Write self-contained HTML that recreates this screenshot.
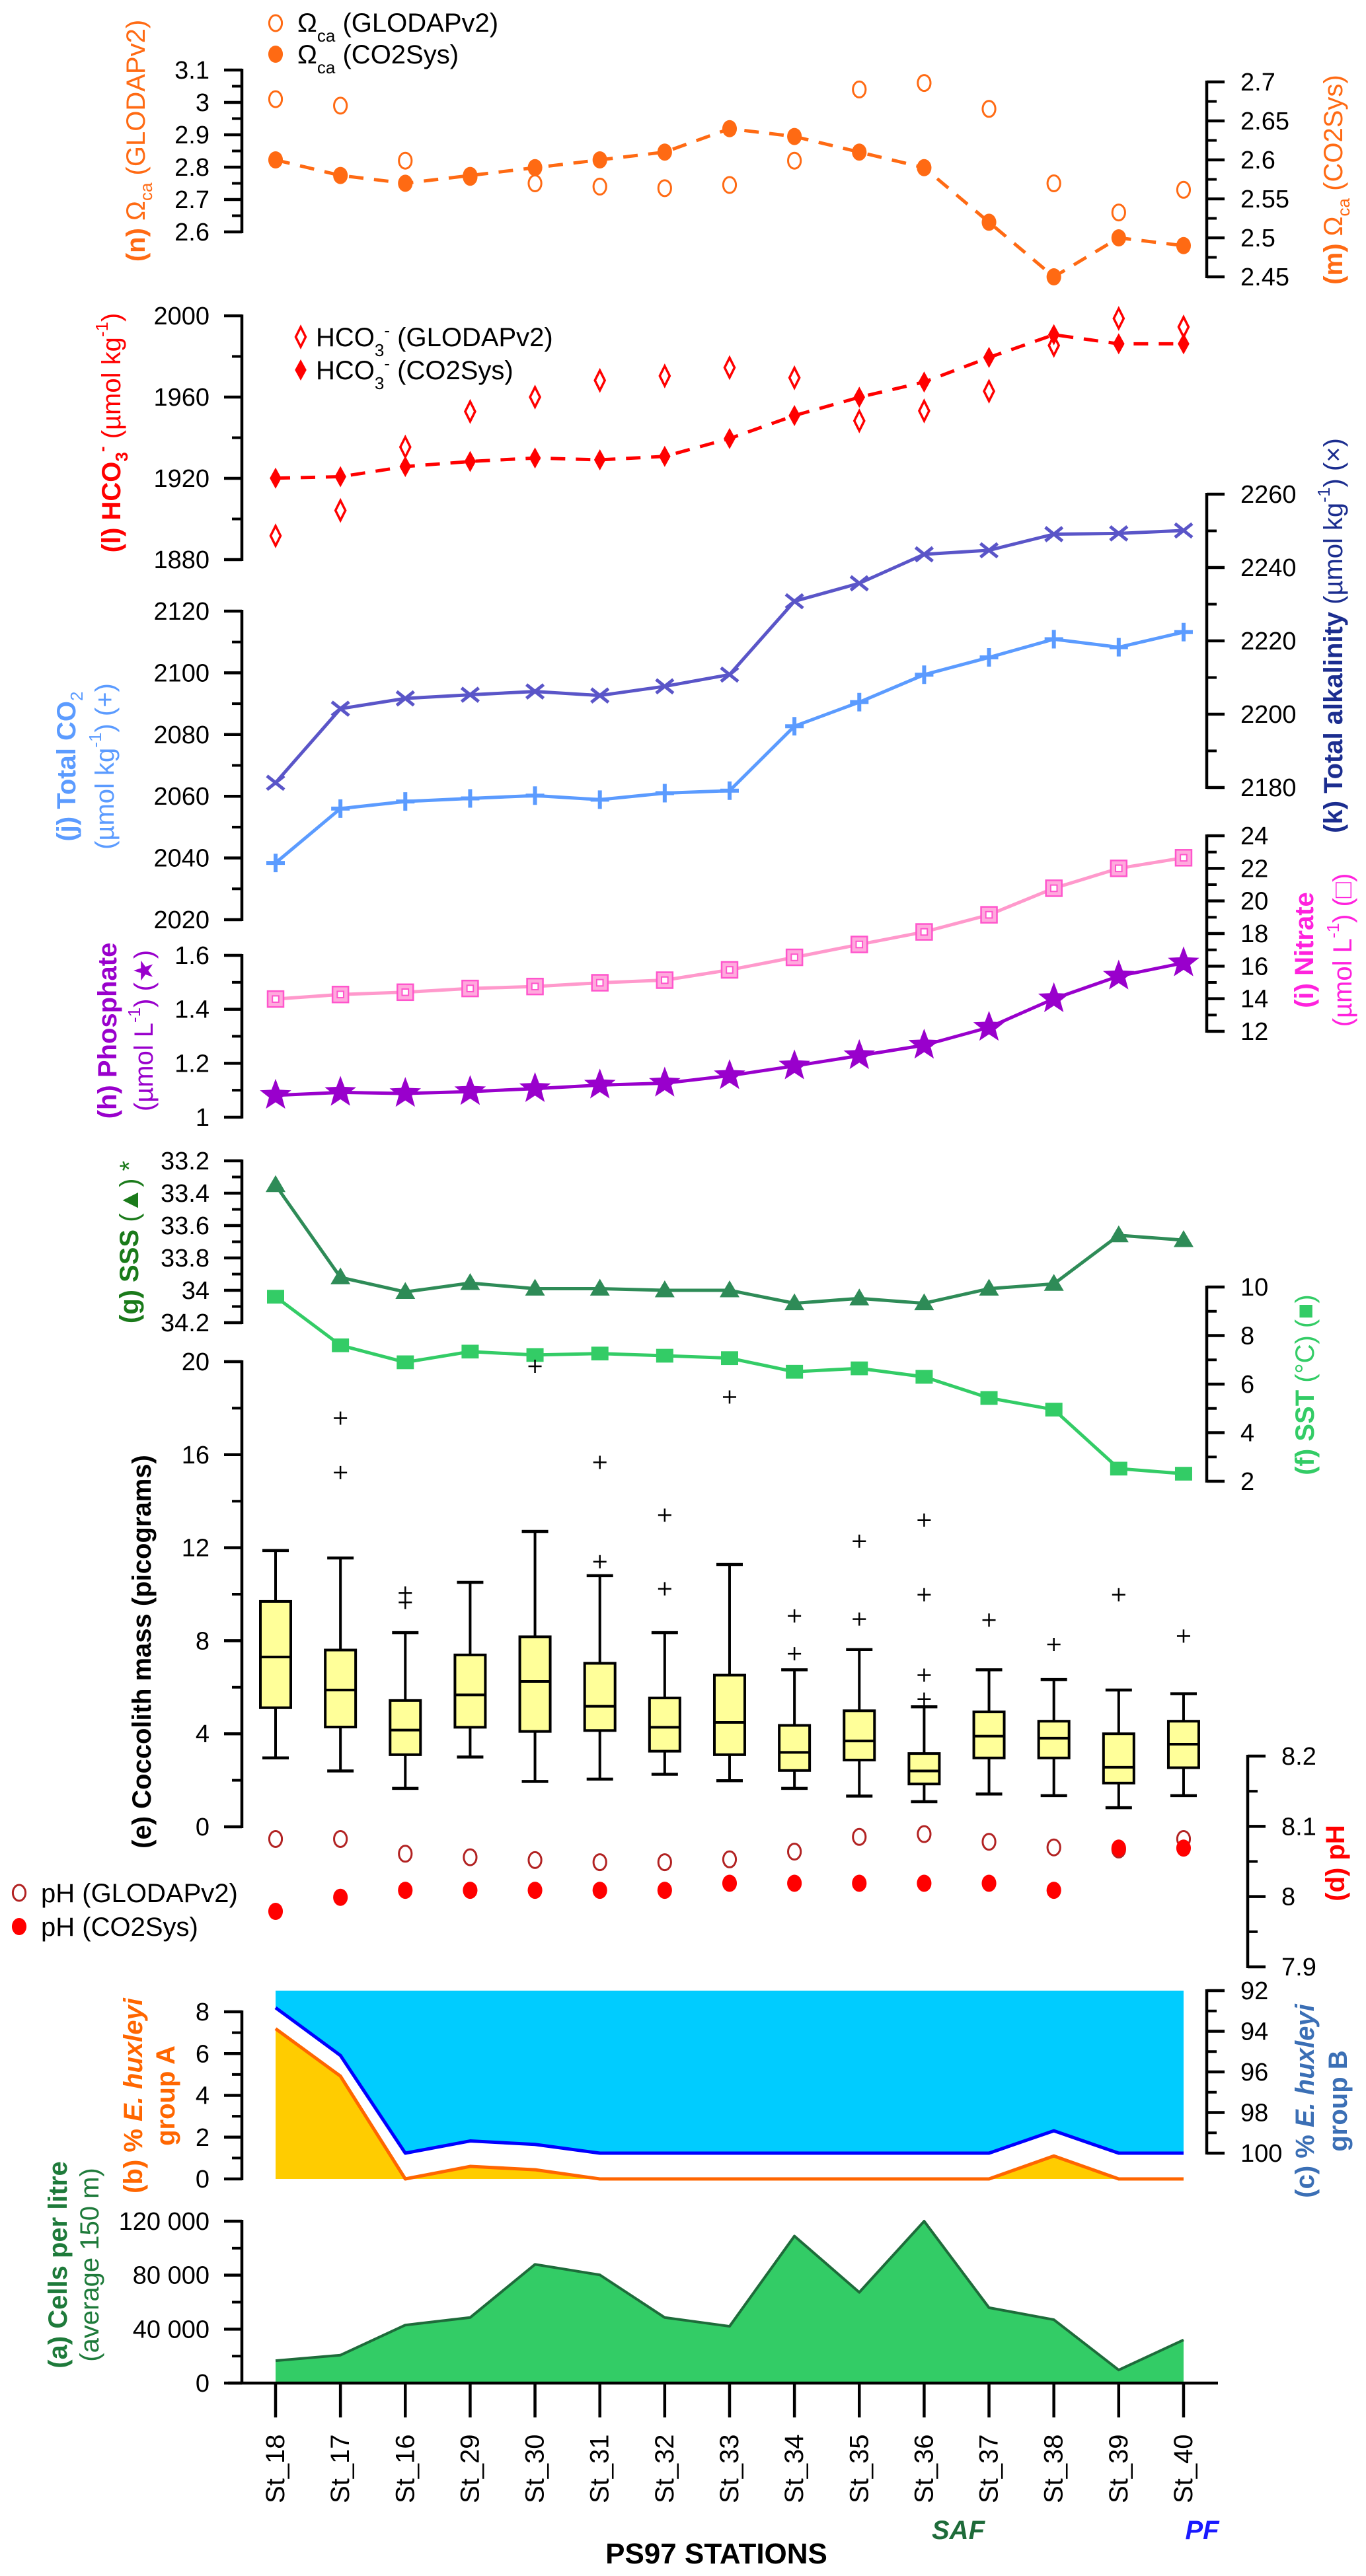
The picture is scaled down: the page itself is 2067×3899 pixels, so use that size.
<!DOCTYPE html>
<html><head><meta charset="utf-8"><style>
html,body{margin:0;padding:0;background:#fff}
svg{display:block;font-family:"Liberation Sans",Arial,sans-serif}
</style></head><body>
<svg id="chart" width="2067" height="3899" viewBox="0 0 2067 3899" xmlns="http://www.w3.org/2000/svg"></svg>
<script>
const stations = ["St_18","St_17","St_16","St_29","St_30","St_31","St_32","St_33","St_34","St_35","St_36","St_37","St_38","St_39","St_40"];
const omegaGlodap = [3.01,2.99,2.82,2.77,2.75,2.74,2.735,2.745,2.82,3.04,3.06,2.98,2.75,2.66,2.73];
const omegaCo2sys = [2.60,2.58,2.57,2.58,2.59,2.60,2.61,2.64,2.63,2.61,2.59,2.52,2.45,2.50,2.49];
const hco3Glodap = [1891.7,1904.2,1935.4,1952.9,1960,1968.2,1970.4,1974.5,1969.5,1948.3,1953.2,1962.9,1985.4,1998.7,1994.5];
const hco3Co2sys = [1920.1,1920.8,1925.8,1928.3,1930,1929.1,1930.8,1939.6,1950.9,1959.9,1967.4,1979.5,1990.7,1986.2,1986.2];
const totalCO2 = [2038.4,2056,2058.3,2059.3,2060.2,2058.9,2061,2061.8,2082.7,2090.5,2099.4,2105,2110.9,2108.3,2113.2];
const totalAlk = [2181.3,2201.5,2204.3,2205.3,2206.2,2205.1,2207.6,2210.8,2230.8,2235.7,2243.6,2244.7,2249.1,2249.3,2250.1];
const nitrate = [13.98,14.26,14.4,14.63,14.75,14.98,15.14,15.77,16.54,17.33,18.1,19.15,20.78,22,22.65];
const phosphate = [1.081,1.092,1.088,1.095,1.106,1.119,1.126,1.154,1.19,1.228,1.267,1.333,1.439,1.523,1.572];
const sss = [33.35,33.92,34.01,33.955,33.99,33.99,34.0,34.0,34.08,34.05,34.08,33.99,33.96,33.66,33.69];
const sst = [9.6,7.6,6.9,7.34,7.2,7.26,7.17,7.07,6.51,6.65,6.3,5.43,4.95,2.52,2.31];
const boxWhiskerTop = [11.88,11.56,8.35,10.51,12.7,10.8,8.35,11.28,6.75,7.62,5.16,6.75,6.33,5.88,5.72];
const boxQ3 = [9.69,7.6,5.43,7.39,8.17,7.03,5.54,6.52,4.36,4.99,3.15,4.94,4.54,4.0,4.54];
const boxMedian = [7.3,5.88,4.16,5.67,6.25,5.18,4.28,4.49,3.2,3.69,2.4,3.9,3.81,2.56,3.55];
const boxQ1 = [5.12,4.29,3.1,4.28,4.1,4.14,3.25,3.1,2.42,2.87,1.84,2.96,2.96,1.88,2.54];
const boxWhiskerBottom = [2.96,2.4,1.65,3.0,1.95,2.05,2.26,1.98,1.65,1.32,1.08,1.41,1.34,0.82,1.34];
const boxOutliers = [[],[17.57,15.23],[10.05,9.65],[],[19.8],[15.67,11.4],[13.4,10.23],[18.48],[9.07,7.44],[12.28,8.93],[13.19,9.98,6.52,5.49],[8.89],[7.84],[9.98],[8.2]];
const phGlodap = [8.082,8.082,8.061,8.056,8.052,8.049,8.049,8.053,8.064,8.085,8.089,8.078,8.07,8.067,8.082];
const phCo2sys = [7.979,7.999,8.009,8.009,8.009,8.009,8.009,8.019,8.019,8.019,8.019,8.019,8.009,8.069,8.069];
const groupA = [7.19,4.92,0,0.6,0.44,0,0,0,0,0,0,0,1.1,0,0];
const groupB = [92.84,95.19,100,99.4,99.57,100,100,100,100,100,100,100,98.9,100,100];
const cells = [16600,20700,43000,48600,88000,80200,48600,42100,109000,67300,120000,55900,47000,9700,32000];
const omegaLTicks = ["2.6","2.7","2.8","2.9","3","3.1"];
const omegaRTicks = ["2.45","2.5","2.55","2.6","2.65","2.7"];
const hco3Ticks = ["1880","1920","1960","2000"];
const dicTicks = ["2020","2040","2060","2080","2100","2120"];
const taTicks = ["2180","2200","2220","2240","2260"];
const nitTicks = ["12","14","16","18","20","22","24"];
const phosTicks = ["1","1.2","1.4","1.6"];
const sssTicks = ["33.2","33.4","33.6","33.8","34","34.2"];
const sstTicks = ["2","4","6","8","10"];
const coccTicks = ["0","4","8","12","16","20"];
const phTicks = ["7.9","8","8.1","8.2"];
const grpATicks = ["0","2","4","6","8"];
const grpBTicks = ["92","94","96","98","100"];
const cellTicks = ["0","40 000","80 000","120 000"];

const NS="http://www.w3.org/2000/svg";
const svg=document.getElementById('chart');
function mk(tag,attrs,parent){const e=document.createElementNS(NS,tag);for(const k in attrs)e.setAttribute(k,attrs[k]);(parent||svg).appendChild(e);return e;}
function lin(d0,d1,r0,r1){return v=>r0+(v-d0)/(d1-d0)*(r1-r0);}
const X0=417,DX=98.14;
const xs=i=>X0+i*DX;
const LAX=366,RAX=1826,PHAX=1888;

const yOmL=lin(2.6,3.1,351,106), yOmR=lin(2.45,2.7,419,124);
const yHco=lin(1880,2000,847,478), yDic=lin(2020,2120,1392,925), yTa=lin(2180,2260,1192,748);
const yNit=lin(12,24,1561,1265), yPho=lin(1,1.6,1691,1446);
const ySss=lin(33.2,34.2,1757,2002), ySst=lin(2,10,2242,1948);
const yCoc=lin(0,20,2765,2061), yPh=lin(7.9,8.2,2977,2658);
const yA=lin(0,8,3298,3045), yB=lin(92,100,3013,3259), yCel=lin(0,120000,3607,3362);

function axis(name,x,side,ticks,scale,minor,labelX,fs){
  const g=mk('g',{});
  
  
  const vals=ticks.map(t=>parseFloat(t.replace(/\s/g,'')));
  const y0=scale(vals[0]),y1=scale(vals[vals.length-1]);
  const d=side==='L'?-1:1;
  const ln=mk('line',{x1:x,x2:x,y1:Math.min(y0,y1)-2,y2:Math.max(y0,y1)+2,stroke:'#000','stroke-width':4.5},g);
  
  
  for(let i=0;i<vals.length;i++){
    const y=scale(vals[i]);
    mk('line',{x1:x,x2:x+d*27,y1:y,y2:y,stroke:'#000','stroke-width':4.5},g);
    if(minor&&i<vals.length-1){const ym=scale((vals[i]+vals[i+1])/2);mk('line',{x1:x,x2:x+d*15,y1:ym,y2:ym,stroke:'#000','stroke-width':4},g);}
    const t=mk('text',{x:labelX,y:y+13,'font-size':fs||38,'text-anchor':side==='L'?'end':'start',fill:'#000'},g);
    
    
    t.textContent=ticks[i];
  }
}
function vtitle(name,x,y,parts,fs){
  const t=mk('text',{transform:`translate(${x},${y}) rotate(-90)`,'text-anchor':'middle','font-size':fs||40,'dominant-baseline':'middle'});
  
  
  parts.forEach(p=>{const s=mk('tspan',{fill:p.c,'font-weight':p.b?'bold':'normal'},t);if(p.sup){s.setAttribute('baseline-shift','super');s.setAttribute('font-size',(fs||40)*0.65);}if(p.sub){s.setAttribute('baseline-shift','sub');s.setAttribute('font-size',(fs||40)*0.65);}if(p.i)s.setAttribute('font-style','italic');s.textContent=p.t;});
}
function poly(name,vals,scale,color,w,dash){
  const p=mk('polyline',{points:vals.map((v,i)=>xs(i)+','+scale(v)).join(' '),fill:'none',stroke:color,'stroke-width':w,'stroke-dasharray':dash||'none','stroke-linejoin':'round'});
  
  
}
function marker(name,type,x,y,color,s){
  let e;
  if(type==='oc')e=mk('ellipse',{cx:x,cy:y,rx:s*0.8,ry:s,fill:'#fff',stroke:color,'stroke-width':3});
  else if(type==='fc')e=mk('ellipse',{cx:x,cy:y,rx:s*0.85,ry:s,fill:color});
  else if(type==='od')e=mk('polygon',{points:`${x},${y-s} ${x+s*0.5},${y} ${x},${y+s} ${x-s*0.5},${y}`,fill:'#fff',stroke:color,'stroke-width':3.5});
  else if(type==='fd')e=mk('polygon',{points:`${x},${y-s} ${x+s*0.55},${y} ${x},${y+s} ${x-s*0.55},${y}`,fill:color});
  else if(type==='plus')e=mk('path',{d:`M${x-s},${y}H${x+s}M${x},${y-s}V${y+s}`,stroke:color,'stroke-width':6,fill:'none'});
  else if(type==='x')e=mk('path',{d:`M${x-s},${y-s*0.8}L${x+s},${y+s*0.8}M${x-s},${y+s*0.8}L${x+s},${y-s*0.8}`,stroke:color,'stroke-width':5,fill:'none'});
  else if(type==='sq'){e=mk('g',{});mk('rect',{x:x-s,y:y-s,width:2*s,height:2*s,fill:'#ffaadd',stroke:'#ff55cc','stroke-width':2.5},e);mk('rect',{x:x-s*0.4,y:y-s*0.4,width:s*0.8,height:s*0.8,fill:'#fff',stroke:'#ff55cc','stroke-width':2},e);}
  else if(type==='fsq')e=mk('rect',{x:x-s,y:y-s*0.8,width:2*s,height:1.6*s,fill:color});
  else if(type==='tri')e=mk('polygon',{points:`${x},${y-s} ${x+s},${y+s*0.7} ${x-s},${y+s*0.7}`,fill:color});
  else if(type==='star'){let pts=[];for(let k=0;k<10;k++){const r=k%2?s*0.42:s;const a=-Math.PI/2+k*Math.PI/5;pts.push((x+r*Math.cos(a))+','+(y+r*Math.sin(a)));}e=mk('polygon',{points:pts.join(' '),fill:color});}
  
  
  return e;
}
function series(name,vals,scale,type,color,s){vals.forEach((v,i)=>marker(name+'-point',type,xs(i),scale(v),color,s));}
function legText(name,x,y,parts,fs){
  const t=mk('text',{x:x,y:y,'font-size':fs||40,fill:'#000'});
  
  
  parts.forEach(p=>{const s=mk('tspan',{},t);if(p.sub){s.setAttribute('baseline-shift','sub');s.setAttribute('font-size',26);}if(p.sup){s.setAttribute('baseline-shift','super');s.setAttribute('font-size',26);}s.textContent=p.t;});
}

// ===== (n)/(m) Omega =====
axis('omega-glodap-axis',LAX,'L',omegaLTicks,yOmL,true,317);
axis('omega-co2sys-axis',RAX,'R',omegaRTicks,yOmR,true,1877);
const OR='#ff6a13';
poly('omega-co2sys-line',omegaCo2sys,yOmR,OR,5,'22,16');
series('omega-glodap',omegaGlodap,yOmL,'oc',OR,12);
series('omega-co2sys',omegaCo2sys,yOmR,'fc',OR,13);
marker('legend-omega-glodap-symbol','oc',417,35,OR,12);
legText('legend-omega-glodap',450,48,[{t:'Ω'},{t:'ca',sub:1},{t:' (GLODAPv2)'}]);
marker('legend-omega-co2sys-symbol','fc',417,82,OR,13);
legText('legend-omega-co2sys',450,96,[{t:'Ω'},{t:'ca',sub:1},{t:' (CO2Sys)'}]);
vtitle('omega-glodap-axis-title',208,213,[{t:'(n) ',c:OR,b:1},{t:'Ω',c:OR},{t:'ca',c:OR,sub:1},{t:' (GLODAPv2)',c:OR}]);
vtitle('omega-co2sys-axis-title',2020,272,[{t:'(m) ',c:OR,b:1},{t:'Ω',c:OR},{t:'ca',c:OR,sub:1},{t:' (CO2Sys)',c:OR}]);

// ===== (l) HCO3 =====
axis('hco3-axis',LAX,'L',hco3Ticks,yHco,true,317);
poly('hco3-co2sys-line',hco3Co2sys,yHco,'#ff0000',5,'22,16');
series('hco3-glodap',hco3Glodap,yHco,'od','#ff0000',15);
series('hco3-co2sys',hco3Co2sys,yHco,'fd','#ff0000',16);
marker('legend-hco3-glodap-symbol','od',455,510,'#ff0000',15);
legText('legend-hco3-glodap',478,524,[{t:'HCO'},{t:'3',sub:1},{t:'-',sup:1},{t:' (GLODAPv2)'}]);
marker('legend-hco3-co2sys-symbol','fd',455,560,'#ff0000',16);
legText('legend-hco3-co2sys',478,574,[{t:'HCO'},{t:'3',sub:1},{t:'-',sup:1},{t:' (CO2Sys)'}]);
vtitle('hco3-axis-title',171,655,[{t:'(l) HCO',c:'#ff0000',b:1},{t:'3',c:'#ff0000',b:1,sub:1},{t:'-',c:'#ff0000',b:1,sup:1},{t:'  (µmol kg',c:'#ff0000'},{t:'-1',c:'#ff0000',sup:1},{t:')',c:'#ff0000'}]);

// ===== (j) DIC / (k) TA =====
axis('total-co2-axis',LAX,'L',dicTicks,yDic,true,317);
axis('total-alkalinity-axis',RAX,'R',taTicks,yTa,true,1877);
poly('total-alkalinity-line',totalAlk,yTa,'#5a55c8',5);
series('total-alkalinity',totalAlk,yTa,'x','#5a55c8',13);
poly('total-co2-line',totalCO2,yDic,'#5b9bff',5);
series('total-co2',totalCO2,yDic,'plus','#5b9bff',14);
vtitle('total-co2-axis-title',103,1160,[{t:'(j) Total CO',c:'#5b9bff',b:1},{t:'2',c:'#5b9bff',sub:1}]);
vtitle('total-co2-axis-units',161,1160,[{t:'(µmol kg',c:'#5b9bff'},{t:'-1',c:'#5b9bff',sup:1},{t:') (+)',c:'#5b9bff'}]);
vtitle('total-alkalinity-axis-title',2020,962,[{t:'(k) Total alkalinity ',c:'#1b2d8f',b:1},{t:'(µmol kg',c:'#1b2d8f'},{t:'-1',c:'#1b2d8f',sup:1},{t:') (×)',c:'#1b2d8f'}]);

// ===== (h) Phosphate / (i) Nitrate =====
axis('phosphate-axis',LAX,'L',phosTicks,yPho,true,317);
axis('nitrate-axis',RAX,'R',nitTicks,yNit,true,1877);
poly('nitrate-line',nitrate,yNit,'#ff99cc',5);
series('nitrate',nitrate,yNit,'sq','#ff55cc',12);
poly('phosphate-line',phosphate,yPho,'#9900cc',5);
series('phosphate',phosphate,yPho,'star','#9900cc',25);
vtitle('phosphate-axis-title',165,1560,[{t:'(h) Phosphate',c:'#9900cc',b:1}]);
vtitle('phosphate-axis-units',220,1560,[{t:'(µmol L',c:'#9900cc'},{t:'-1',c:'#9900cc',sup:1},{t:') (★)',c:'#9900cc'}]);
vtitle('nitrate-axis-title',1976,1438,[{t:'(i) Nitrate',c:'#ff22dd',b:1}]);
vtitle('nitrate-axis-units',2034,1438,[{t:'(µmol L',c:'#ff22dd'},{t:'-1',c:'#ff22dd',sup:1},{t:') (□)',c:'#ff22dd'}]);

// ===== (g) SSS / (f) SST =====
axis('sss-axis',LAX,'L',sssTicks,ySss,true,317);
axis('sst-axis',RAX,'R',sstTicks,ySst,true,1877);
poly('sss-line',sss,ySss,'#2e8b57',5);
series('sss',sss,ySss,'tri','#2e8b57',15);
poly('sst-line',sst,ySst,'#33cc66',5);
series('sst',sst,ySst,'fsq','#33cc66',13);
vtitle('sss-axis-title',198,1880,[{t:'(g) SSS',c:'#1a7a1a',b:1},{t:' (▲) *',c:'#1a7a1a'}]);
vtitle('sst-axis-title',1977,2096,[{t:'(f) SST',c:'#33cc66',b:1},{t:' (°C) (■)',c:'#33cc66'}]);

// ===== (e) Coccolith mass boxplots =====
axis('coccolith-mass-axis',LAX,'L',coccTicks,yCoc,true,317);
stations.forEach((s,i)=>{
  const x=xs(i),g=mk('g',{});
  
  
  mk('line',{x1:x,x2:x,y1:yCoc(boxWhiskerTop[i]),y2:yCoc(boxQ3[i]),stroke:'#000','stroke-width':4},g);
  mk('line',{x1:x,x2:x,y1:yCoc(boxQ1[i]),y2:yCoc(boxWhiskerBottom[i]),stroke:'#000','stroke-width':4},g);
  mk('line',{x1:x-20,x2:x+20,y1:yCoc(boxWhiskerTop[i]),y2:yCoc(boxWhiskerTop[i]),stroke:'#000','stroke-width':4.5},g);
  mk('line',{x1:x-20,x2:x+20,y1:yCoc(boxWhiskerBottom[i]),y2:yCoc(boxWhiskerBottom[i]),stroke:'#000','stroke-width':4.5},g);
  mk('rect',{x:x-23,y:yCoc(boxQ3[i]),width:46,height:yCoc(boxQ1[i])-yCoc(boxQ3[i]),fill:'#ffff99',stroke:'#000','stroke-width':4},g);
  mk('line',{x1:x-23,x2:x+23,y1:yCoc(boxMedian[i]),y2:yCoc(boxMedian[i]),stroke:'#000','stroke-width':4},g);
  boxOutliers[i].forEach(o=>{const y=yCoc(o);mk('path',{d:`M${x-10},${y}H${x+10}M${x},${y-10}V${y+10}`,stroke:'#000','stroke-width':2.5,fill:'none'},g);});
});
vtitle('coccolith-mass-axis-title',217,2500,[{t:'(e) Coccolith mass (picograms)',c:'#000',b:1}]);

// ===== (d) pH =====
axis('ph-axis',PHAX,'R',phTicks,yPh,true,1939);
series('ph-glodap',phGlodap,yPh,'oc','#b22222',12);
series('ph-co2sys',phCo2sys,yPh,'fc','#ff0000',13);
marker('legend-ph-glodap-symbol','oc',29,2865,'#b22222',12);
legText('legend-ph-glodap',62,2879,[{t:'pH (GLODAPv2)'}]);
marker('legend-ph-co2sys-symbol','fc',29,2916,'#ff0000',13);
legText('legend-ph-co2sys',62,2930,[{t:'pH (CO2Sys)'}]);
vtitle('ph-axis-title',2023,2820,[{t:'(d) pH',c:'#ff0000',b:1}]);

// ===== (b)/(c) group A / B =====
const bluePts=groupB.map((v,i)=>xs(i)+','+yB(v));
const blueArea=mk('polygon',{points:xs(0)+','+yB(92)+' '+bluePts.join(' ')+' '+xs(14)+','+yB(92),fill:'#00ccff'});


const aPts=groupA.map((v,i)=>xs(i)+','+yA(v));
const yelArea=mk('polygon',{points:xs(0)+','+yA(0)+' '+aPts.join(' ')+' '+xs(14)+','+yA(0),fill:'#ffcc00'});


poly('group-b-line',groupB,yB,'#0000ff',5);
poly('group-a-line',groupA,yA,'#ff6600',5);
axis('group-a-axis',LAX,'L',grpATicks,yA,true,317);
axis('group-b-axis',RAX,'R',grpBTicks,yB,true,1877);
vtitle('group-a-axis-title',204,3172,[{t:'(b) ',c:'#ff6600',b:1},{t:'% ',c:'#ff6600',b:1},{t:'E. huxleyi',c:'#ff6600',b:1,i:1}]);
vtitle('group-a-axis-title-2',253,3172,[{t:'group A',c:'#ff6600',b:1}]);
vtitle('group-b-axis-title',1977,3180,[{t:'(c) % ',c:'#3b6fb5',b:1},{t:'E. huxleyi',c:'#3b6fb5',b:1,i:1}]);
vtitle('group-b-axis-title-2',2027,3180,[{t:'group B',c:'#3b6fb5',b:1}]);

// ===== (a) cells =====
const cPts=cells.map((v,i)=>xs(i)+','+yCel(v));
const cArea=mk('polygon',{points:xs(0)+','+yCel(0)+' '+cPts.join(' ')+' '+xs(14)+','+yCel(0),fill:'#33cc66'});


poly('cells-line',cells,yCel,'#1e6b3a',4);
axis('cells-axis',LAX,'L',cellTicks,yCel,true,317);
const xa=mk('line',{x1:345,x2:1843,y1:yCel(0),y2:yCel(0),stroke:'#000','stroke-width':4.5});


stations.forEach((s,i)=>{
  const tk=mk('line',{x1:xs(i),x2:xs(i),y1:yCel(0),y2:3659,stroke:'#000','stroke-width':4.5});
  
  
  const t=mk('text',{transform:`translate(${xs(i)+13},3789) rotate(-90)`,'font-size':40,fill:'#000'});
  
  
  t.textContent=s;
});
vtitle('cells-axis-title',90,3428,[{t:'(a) Cells per litre',c:'#1e7a3a',b:1}]);
vtitle('cells-axis-units',138,3428,[{t:'(average 150 m)',c:'#1e7a3a'}]);
const saf=mk('text',{x:1450,y:3843,'font-size':40,'font-weight':'bold','font-style':'italic',fill:'#1e6b3a','text-anchor':'middle'});


saf.textContent='SAF';
const pf=mk('text',{x:1819,y:3843,'font-size':40,'font-weight':'bold','font-style':'italic',fill:'#1a1aff','text-anchor':'middle'});


pf.textContent='PF';
const xt=mk('text',{x:1084,y:3880,'font-size':44,'font-weight':'bold',fill:'#000','text-anchor':'middle'});


xt.textContent='PS97 STATIONS';
</script>
</body></html>
